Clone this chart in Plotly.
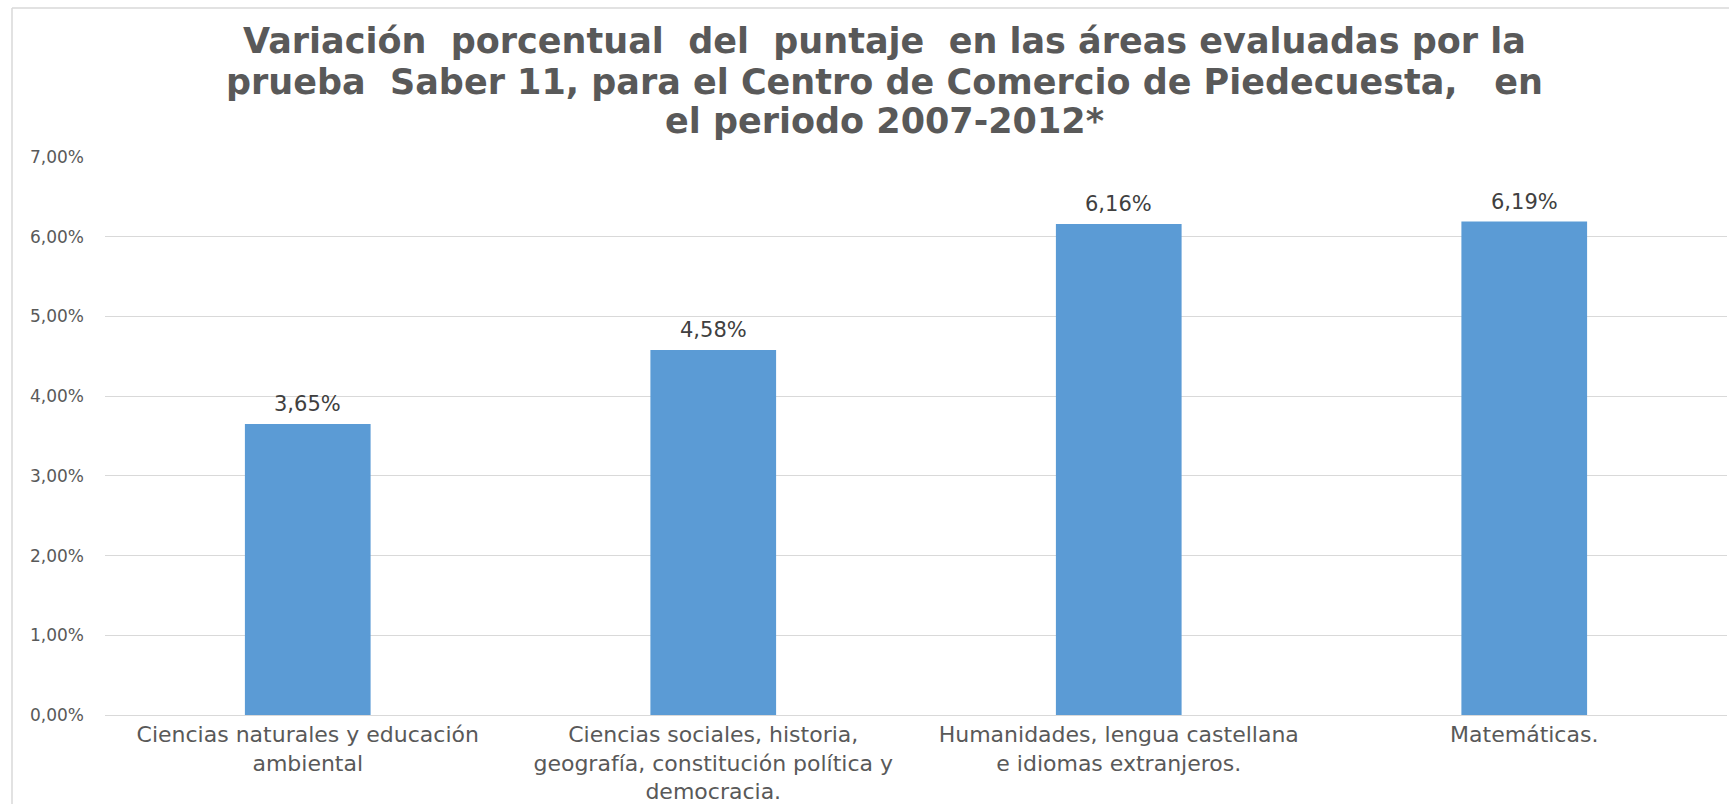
import plotly.graph_objects as go

categories = [
    "Ciencias naturales y educación<br>ambiental",
    "Ciencias sociales, historia,<br>geografía, constitución política y<br>democracia.",
    "Humanidades, lengua castellana<br>e idiomas extranjeros.",
    "Matemáticas.",
]
values = [0.0365, 0.0458, 0.0616, 0.0619]
y_ticks = [0, 0.01, 0.02, 0.03, 0.04, 0.05, 0.06, 0.07]

title_lines = [
    "Variación  porcentual  del  puntaje  en las áreas evaluadas por la",
    "prueba  Saber 11, para el Centro de Comercio de Piedecuesta,   en",
    "el periodo 2007-2012*",
]

W, H = 1736, 804
L, R, T, B = 105, 9, 157, 89

fig = go.Figure()
fig.add_trace(go.Bar(
    x=categories, y=values,
    marker=dict(color="#5B9BD5", line=dict(width=0)),
    hoverinfo="skip",
))

for c, v in zip(categories, values):
    fig.add_annotation(
        x=c, y=v, xref="x", yref="y",
        text=f"{v*100:.2f}%".replace(".", ","),
        showarrow=False, yanchor="bottom", yshift=6,
        font=dict(family="DejaVu Sans", size=21, color="#404040"),
    )

pw = W - L - R
ph = H - T - B
def px_x(x):
    return (x - L) / pw
def px_y(y):
    return (H - B - y) / ph

# title, one line per annotation
for line, yc in zip(title_lines, [41, 82, 121]):
    fig.add_annotation(
        x=px_x(884), y=px_y(yc), xref="paper", yref="paper",
        text=line, showarrow=False, xanchor="center", yanchor="middle",
        font=dict(family="DejaVu Sans", size=35, color="#595959", weight="bold"),
    )

# chart-area border (top and left)
fig.add_shape(type="line", xref="paper", yref="paper",
              x0=px_x(12), x1=px_x(1729), y0=px_y(8), y1=px_y(8),
              line=dict(color="#D9D9D9", width=1.5))
fig.add_shape(type="line", xref="paper", yref="paper",
              x0=px_x(12), x1=px_x(12), y0=px_y(8), y1=px_y(810),
              line=dict(color="#D9D9D9", width=1.5))

fig.update_layout(
    width=W, height=H,
    margin=dict(l=L, r=R, t=T, b=B, autoexpand=False),
    paper_bgcolor="white", plot_bgcolor="white",
    separators=",.",
    bargap=0.69,
    showlegend=False,
    yaxis=dict(
        range=[0, 0.07], tickvals=y_ticks, tickformat=".2%",
        showgrid=True, gridcolor="#D9D9D9", gridwidth=1,
        zeroline=True, zerolinecolor="#D9D9D9", zerolinewidth=1,
        showline=False, ticks="", ticklabelstandoff=20, automargin=False,
        tickfont=dict(family="DejaVu Sans", size=17, color="#595959"),
    ),
    xaxis=dict(
        showgrid=False, showline=False, ticks="", ticklabelstandoff=4,
        automargin=False,
        tickfont=dict(family="DejaVu Sans", size=22, color="#595959"),
    ),
)

fig.write_html(
    "out.html",
    config={"displayModeBar": False},
    post_script="document.body.style.margin='0px';document.body.style.overflow='hidden';",
)
